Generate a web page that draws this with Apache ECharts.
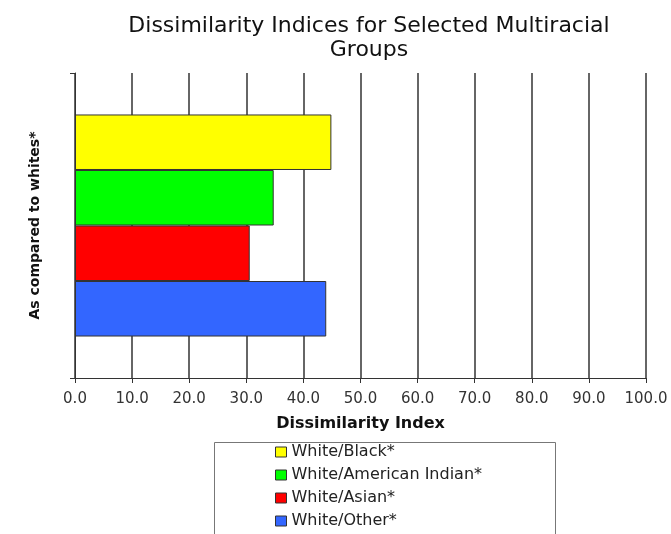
<!DOCTYPE html>
<html>
<head>
<meta charset="utf-8">
<script src="https://cdn.jsdelivr.net/npm/echarts@6/dist/echarts.min.js"></script>
<style>
  html, body { margin: 0; padding: 0; background: #fff; }
  #chart { width: 671px; height: 534px; }
</style>
</head>
<body>
<div id="chart"></div>
<script>
// Dissimilarity index of each multiracial group, compared to whites
const groups = ['White/Black*', 'White/American Indian*', 'White/Asian*', 'White/Other*'];
const indexValues = [44.9, 34.8, 30.6, 44.0];
const groupColors = ['#FFFF00', '#00FF00', '#FF0000', '#3366FF'];
const category = ['As compared to whites*'];

const FONT = "'DejaVu Sans', Verdana, sans-serif";

const chart = echarts.init(document.getElementById('chart'), null, { renderer: 'canvas' });

const series = groups.map((name, i) => ({
  name: name,
  type: 'bar',
  data: [indexValues[i]],
  barGap: '0%',
  barCategoryGap: '27.2%',
  itemStyle: { color: groupColors[i], borderColor: '#333', borderWidth: 1 },
  emphasis: { disabled: true }
}));

chart.setOption({
  backgroundColor: '#fff',
  animation: false,
  title: {
    text: 'Dissimilarity Indices for Selected Multiracial\nGroups',
    left: 364, top: 9, textAlign: 'center',
    textStyle: { fontFamily: FONT, fontSize: 22, fontWeight: 'normal', color: '#111', lineHeight: 24 }
  },
  grid: { left: 75, right: 25, top: 73, bottom: 156, containLabel: false },
  xAxis: {
    type: 'value', min: 0, max: 100, interval: 10,
    name: 'Dissimilarity Index', nameLocation: 'middle', nameGap: 38,
    nameTextStyle: { fontFamily: FONT, fontSize: 16, fontWeight: 'bold', color: '#111' },
    axisLine: { show: true, lineStyle: { color: '#333', width: 1 } },
    axisTick: { show: true, length: 5, lineStyle: { color: '#333' } },
    axisLabel: { fontFamily: FONT, fontSize: 15, color: '#333', margin: 14,
      formatter: v => v.toFixed(1) },
    splitLine: { show: true, lineStyle: { color: '#333', width: 1.5 } }
  },
  yAxis: {
    type: 'category', data: category, inverse: true,
    name: 'As compared to whites*', nameLocation: 'middle', nameGap: 33,
    nameTextStyle: { fontFamily: FONT, fontSize: 14, fontWeight: 'bold', color: '#111' },
    axisLine: { show: true, lineStyle: { color: '#333', width: 1 } },
    axisTick: { show: true, length: 5, lineStyle: { color: '#333' } },
    axisLabel: { show: false },
    splitLine: { show: false }
  },
  legend: {
    orient: 'vertical', left: 275, top: 443,
    itemWidth: 11, itemHeight: 10, itemGap: 5, padding: 0,
    textStyle: { fontFamily: FONT, fontSize: 16, lineHeight: 18, color: '#222' },
    data: groups.map((g, i) => ({ name: g, icon: 'rect',
      itemStyle: { color: groupColors[i], borderColor: '#333', borderWidth: 1 } }))
  },
  graphic: [{
    type: 'rect', left: 212, top: 440,
    shape: { width: 341, height: 120 },
    style: { fill: 'none', stroke: '#777', lineWidth: 1 },
    silent: true
  }],
  series: series
});
</script>
</body>
</html>
